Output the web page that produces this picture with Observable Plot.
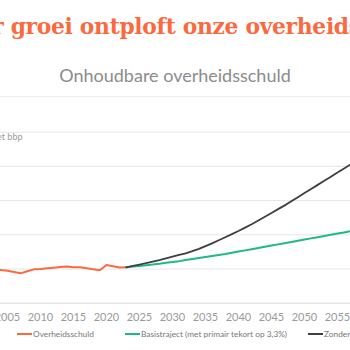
<!DOCTYPE html>
<html><head><meta charset="utf-8">
<script src="https://cdn.jsdelivr.net/npm/d3@7"></script>
<script src="https://cdn.jsdelivr.net/npm/@observablehq/plot@0.6"></script>
<style>
html,body{margin:0;padding:0;background:#fff;}
#wrap{position:relative;width:350px;height:350px;overflow:hidden;font-family:Lato,sans-serif;}
#title{position:absolute;left:-171px;width:700px;top:14px;text-align:center;font-family:"DejaVu Serif",serif;font-weight:bold;font-size:21.8px;line-height:26px;color:#fb6a3f;white-space:nowrap;letter-spacing:-0.3px;}
#subtitle{position:absolute;left:0;width:350px;top:64px;text-align:center;font-family:Lato,sans-serif;font-size:18px;line-height:22px;color:#8c8c8c;white-space:nowrap;}
#sep{position:absolute;left:0;width:350px;top:96px;height:1px;background:#ececec;}
#chart{position:absolute;left:0;top:100px;}
#legend{position:absolute;left:0;top:327px;height:14px;width:700px;font-size:8.3px;color:#777;}
.item{position:absolute;top:0;display:flex;align-items:center;height:14px;white-space:nowrap;}
.sw{width:15px;height:2px;margin-right:1px;}
</style>
</head><body>
<div id="wrap">
  <div id="title"></div>
  <div id="subtitle"></div>
  <div id="sep"></div>
  <div id="chart"></div>
  <div id="legend"></div>
</div>
<script>
const titleText = "Zonder groei ontploft onze overheidsschuld";
const subtitleText = "Onhoudbare overheidsschuld";
const yLabel = "in % van het bbp";
const seriesNames = ["Overheidsschuld", "Basistraject (met primair tekort op 3,3%)", "Zonder groei"];
const seriesColors = ["#fb6a3f", "#1db98a", "#3f3f3f"];

const histYears = [2000,2001,2002,2003,2004,2005,2006,2007,2008,2009,2010,2011,2012,2013,2014,2015,2016,2017,2018,2019,2020,2021,2022,2023];
const histValues = [108.8,107.6,104.7,101.0,97.2,95.1,91.5,87.3,93.2,99.0,100.3,102.5,104.0,105.5,107.0,105.2,105.0,102.0,99.0,96.5,111.8,108.0,104.3,105.0];

const projYears = [2023,2024,2025,2026,2027,2028,2029,2030,2031,2032,2033,2034,2035,2036,2037,2038,2039,2040,2041,2042,2043,2044,2045,2046,2047,2048,2049,2050,2051,2052,2053,2054,2055,2056,2057,2058,2059,2060];
const basisValues = [105,107,109,111,113,115.5,118,120.5,123,126,129,132,135,138,141,144,147.5,151,154.5,158,161.5,165,168.5,172,175.5,179,182.5,186,189.5,193,196.5,200,203.5,207,210.5,214,217.5,221];
const zonderValues = [105,109,113,117,121.5,126,131,136,141,146,152,159,167,175,184,193,202,211,221,231,242,253,264,275,286,298,310,322,334,346,358,370,382,394,406,418,430,442];

const xTicks = [2005,2010,2015,2020,2025,2030,2035,2040,2045,2050,2055];
const yTicks = [0,100,200,300,400,500];

const hist = histYears.map((y,i)=>({year:y, value:histValues[i]}));
const basis = projYears.map((y,i)=>({year:y, value:basisValues[i]}));
const zonder = projYears.map((y,i)=>({year:y, value:zonderValues[i]}));

document.getElementById("title").textContent = titleText;
document.getElementById("subtitle").textContent = subtitleText;

const chart = Plot.plot({
  width: 350, height: 225,
  marginLeft: 0, marginRight: 0, marginTop: 31.7, marginBottom: 22.3,
  x: {domain: [2003.94, 2056.97]},
  y: {domain: [0, 500], axis: null},
  style: {fontFamily: "Lato, sans-serif", fontSize: "11px", background: "transparent", color: "#999"},
  marks: [
    Plot.gridY(yTicks.filter(d => d > 0), {stroke: "#e6e6e6", strokeOpacity: 1}),
    Plot.ruleY([0], {stroke: "#d9d9d9"}),
    Plot.axisX(xTicks, {tickSize: 0, tickPadding: 10, label: null, tickFormat: d => String(d), fill: "#9a9a9a"}),
    Plot.line(hist, {x: "year", y: "value", stroke: seriesColors[0], strokeWidth: 2, clip: true}),
    Plot.line(basis, {x: "year", y: "value", stroke: seriesColors[1], strokeWidth: 2, clip: true}),
    Plot.line(zonder, {x: "year", y: "value", stroke: seriesColors[2], strokeWidth: 1.8, clip: true}),
    Plot.text([yLabel], {frameAnchor: "top-left", textAnchor: "end", lineAnchor: "top", dx: 22, dy: 1, fontSize: 9, fill: "#9a9a9a"})
  ]
});
document.getElementById("chart").appendChild(chart);

const legendLeft = [17, 125, 308];
const legend = document.getElementById("legend");
seriesNames.forEach((name, i) => {
  const it = document.createElement("div");
  it.className = "item";
  it.style.left = legendLeft[i] + "px";
  const sw = document.createElement("span");
  sw.className = "sw";
  sw.style.background = seriesColors[i];
  const tx = document.createElement("span");
  tx.textContent = name;
  it.appendChild(sw); it.appendChild(tx);
  legend.appendChild(it);
});
</script>
</body></html>
